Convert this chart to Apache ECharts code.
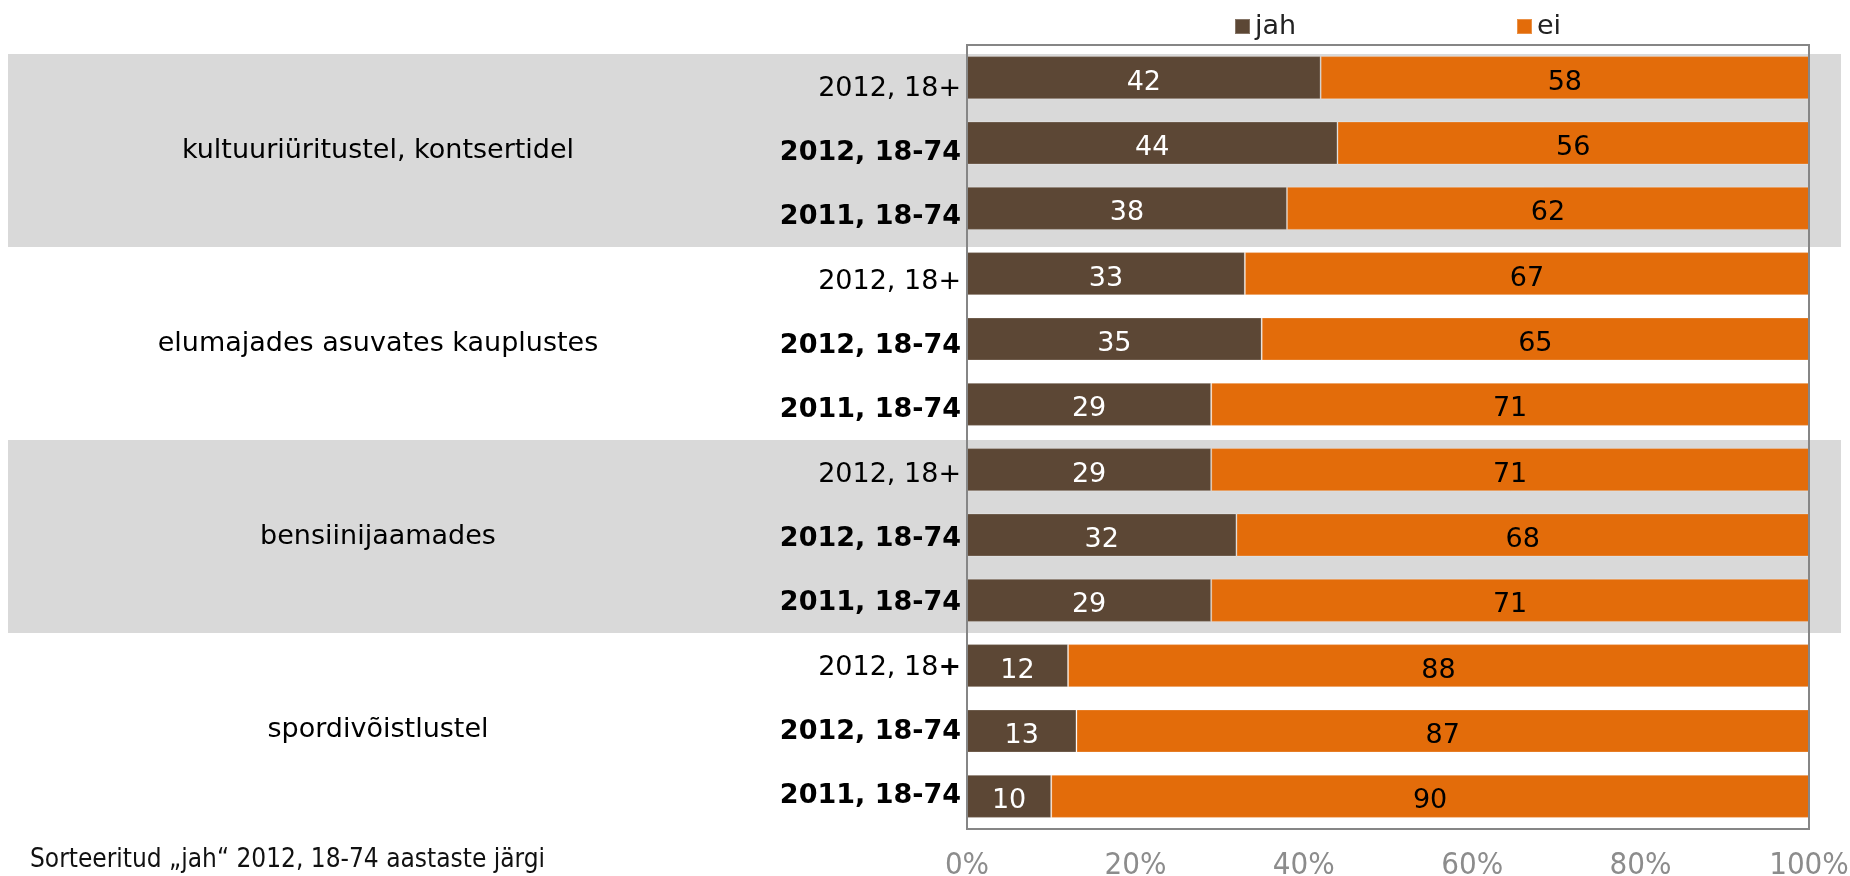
<!DOCTYPE html>
<html>
<head>
<meta charset="utf-8">
<script src="https://cdn.jsdelivr.net/npm/echarts@6/dist/echarts.min.js"></script>
<style>html,body{margin:0;padding:0;background:#fff}#c{width:1850px;height:876px}</style>
</head>
<body>
<div id="c"></div>
<script>
const groups = ['kultuuriüritustel, kontsertidel', 'elumajades asuvates kauplustes', 'bensiinijaamades', 'spordivõistlustel'];
const rowLabels = ['2012, 18+', '2012, 18-74', '2011, 18-74',
                   '2012, 18+', '2012, 18-74', '2011, 18-74',
                   '2012, 18+', '2012, 18-74', '2011, 18-74',
                   '2012, 18+', '2012, 18-74', '2011, 18-74'];
const jah = [42, 44, 38, 33, 35, 29, 29, 32, 29, 12, 13, 10];
const ei  = [58, 56, 62, 67, 65, 71, 71, 68, 71, 88, 87, 90];
const xTicks = [0, 20, 40, 60, 80, 100];
const footnote = 'Sorteeritud „jah“ 2012, 18-74 aastaste järgi';

const FONT = '"DejaVu Sans", Verdana, sans-serif';
const NARROW = '"Liberation Sans Narrow", "DejaVu Sans Condensed", "Liberation Sans", sans-serif';

const chart = echarts.init(document.getElementById('c'));
chart.setOption({
  animation: false,
  backgroundColor: '#ffffff',
  title: {
    text: footnote, left: 25, top: 842,
    textStyle: { fontFamily: NARROW, fontSize: 26, fontWeight: 'normal', color: '#111' }
  },
  legend: [
    { data: ['jah'], left: 1229, top: 8, itemWidth: 15, itemHeight: 15, itemGap: 0,
      icon: 'rect', textStyle: { fontFamily: FONT, fontSize: 27, color: '#222' } },
    { data: ['ei'], left: 1511, top: 8, itemWidth: 15, itemHeight: 15, itemGap: 0,
      icon: 'rect', textStyle: { fontFamily: FONT, fontSize: 27, color: '#222' } }
  ],
  grid: [
    { left: 967, right: 41, top: 45, height: 784, outerBoundsMode: 'none', containLabel: false,
      show: true, borderColor: '#868686', borderWidth: 2, backgroundColor: 'transparent', z: 3 },
    { left: 8, right: 9, top: 54, height: 772, outerBoundsMode: 'none', containLabel: false, show: false },
    { left: 967, width: 1, top: 54, height: 772, outerBoundsMode: 'none', containLabel: false, show: false }
  ],
  xAxis: [
    { type: 'value', gridIndex: 0, min: xTicks[0], max: xTicks[xTicks.length - 1], interval: 20,
      axisLine: { show: false }, axisTick: { show: false }, splitLine: { show: false },
      axisLabel: { formatter: '{value}%', margin: 21, fontFamily: NARROW, fontSize: 31, color: '#8c8c8c' } },
    { type: 'value', gridIndex: 1, show: false },
    { type: 'value', gridIndex: 2, show: false }
  ],
  yAxis: [
    { type: 'category', gridIndex: 0, inverse: true, data: rowLabels,
      axisLine: { show: false }, axisTick: { show: false }, splitLine: { show: false },
      axisLabel: { show: false } },
    { type: 'category', gridIndex: 1, inverse: true, data: groups, z: -1,
      axisLine: { show: false }, axisTick: { show: false }, splitLine: { show: false },
      splitArea: { show: true, areaStyle: { color: ['#d9d9d9', 'rgba(255,255,255,0)'] } },
      axisLabel: { align: 'center', margin: -370, padding: [14, 0, 0, 0], fontFamily: FONT, fontSize: 27, color: '#000' } },
    { type: 'category', gridIndex: 2, inverse: true, data: rowLabels,
      axisLine: { show: false }, axisTick: { show: false }, splitLine: { show: false },
      axisLabel: {
        margin: 6, color: '#000', padding: [5, 0, 0, 0],
        formatter: function (v, i) {
          if (i === 9) return '{n|2012, 18}{b|+}';
          return i % 3 === 0 ? '{n|' + v + '}' : '{b|' + v + '}';
        },
        rich: {
          n: { fontFamily: FONT, fontSize: 27, color: '#000' },
          b: { fontFamily: FONT, fontSize: 27, fontWeight: 'bold', color: '#000' }
        }
      } }
  ],
  series: [
    { name: 'jah', type: 'bar', stack: 's', xAxisIndex: 0, yAxisIndex: 0, data: jah,
      barCategoryGap: '34%', z: 2,
      itemStyle: { color: '#5c4735', borderColor: 'rgba(255,255,255,0.25)', borderWidth: 1 },
      label: { show: true, position: 'inside', offset: [0, 5], color: '#ffffff', fontFamily: FONT, fontSize: 27 } },
    { name: 'ei', type: 'bar', stack: 's', xAxisIndex: 0, yAxisIndex: 0, data: ei,
      barCategoryGap: '34%', z: 2,
      itemStyle: { color: '#e36c0a', borderColor: 'rgba(255,255,255,0.25)', borderWidth: 1 },
      label: { show: true, position: 'inside', offset: [0, 5], color: '#000000', fontFamily: FONT, fontSize: 27 } }
  ]
});
</script>
</body>
</html>
